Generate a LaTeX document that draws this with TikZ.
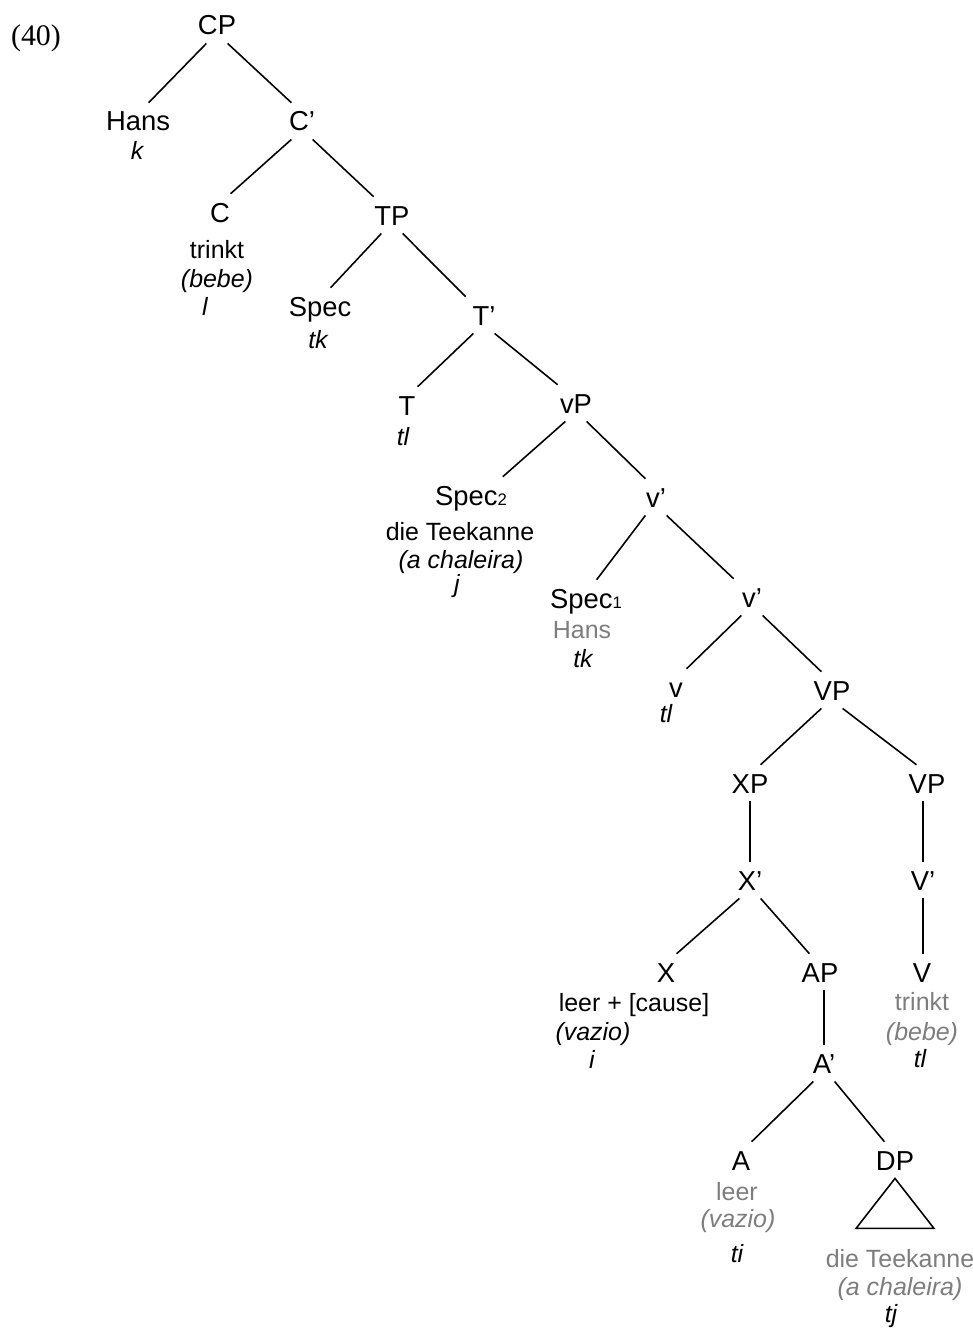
\documentclass[tikz,border=0pt]{standalone}
\usepackage{xcolor}
\usepackage{fontspec}
\setmainfont{Liberation Sans}
\newfontfamily\exfont{Liberation Serif}
\usepackage{tikz}

\definecolor{tracegray}{RGB}{125,125,125}
\tikzset{
  cat/.style={anchor=base, inner sep=0pt, inner xsep=2pt, minimum width=25pt,
    text height=15.9pt, text depth=4.6pt, font=\fontsize{15.6}{18}\selectfont},
  word/.style={anchor=base, inner sep=0pt, font=\fontsize{14.2}{17}\selectfont},
  gloss/.style={anchor=base, inner sep=0pt, font=\fontsize{14.2}{17}\selectfont\itshape},
  idx/.style={gloss},
  traced/.style={text=tracegray},
  branch/.style={line width=0.9pt},
}
\newcommand{\subidx}[1]{{\fontsize{9.5}{10}\selectfont #1}}

\begin{document}
\begin{tikzpicture}[x=0.02cm, y=-0.02cm]
             \useasboundingbox (0,0) rectangle (973,1335);
             \node[anchor=base, font=\exfont\fontsize{17}{20}\selectfont] (ex) at (36,46) {(40)};

             \node[cat] (CP) at (217,35) {CP};
             \node[cat] (Hans) at (138,131) {Hans};
             \node[idx] (Hans-i) at (137,159) {k};
             \node[cat] (Cbar) at (302,131) {C’};
             \node[cat] (C) at (220,222) {C};
             \node[word] (C-w) at (217,258) {trinkt};
             \node[gloss] (C-g) at (217,287) {(bebe)};
             \node[idx] (C-i) at (205,315) {l};
             \node[cat] (TP) at (392,225) {TP};
             \node[cat] (SpecT) at (320,316) {Spec};
             \node[idx] (SpecT-i) at (318,348) {tk};
             \node[cat] (Tbar) at (484,325) {T’};
             \node[cat] (T) at (407,415) {T};
             \node[idx] (T-i) at (403,445) {tl};
             \node[cat] (vP) at (576,413) {vP};
             \node[cat] (SpecB) at (471,505) {Spec\subidx{2}};
             \node[word] (SpecB-w) at (460,540) {die Teekanne};
             \node[gloss] (SpecB-g) at (461,568) {(a chaleira)};
             \node[idx] (SpecB-i) at (457,592) {j};
             \node[cat] (vbarA) at (656,507) {v’};
             \node[cat] (SpecA) at (586,608) {Spec\subidx{1}};
             \node[word, traced] (SpecA-w) at (582,638) {Hans};
             \node[idx] (SpecA-i) at (583,667) {tk};
             \node[cat] (vbarB) at (752,607) {v’};
             \node[cat] (v) at (676,697) {v};
             \node[idx] (v-i) at (666,722) {tl};
             \node[cat] (VPa) at (832,700) {VP};
             \node[cat] (XP) at (750,793) {XP};
             \node[cat] (VPb) at (927,793) {VP};
             \node[cat] (Xbar) at (750,890) {X’};
             \node[cat] (Vbar) at (923,890) {V’};
             \node[cat] (X) at (666,982) {X};
             \node[word] (X-w) at (634,1011) {leer + [cause]};
             \node[gloss] (X-g) at (593,1040) {(vazio)};
             \node[idx] (X-i) at (592,1068) {i};
             \node[cat] (AP) at (820,982) {AP};
             \node[cat] (V) at (922,982) {V};
             \node[word, traced] (V-w) at (922,1010) {trinkt};
             \node[gloss, traced] (V-g) at (922,1040) {(bebe)};
             \node[idx] (V-i) at (920,1067) {tl};
             \node[cat] (Abar) at (824,1073) {A’};
             \node[cat] (A) at (741,1170) {A};
             \node[word, traced] (A-w) at (737,1200) {leer};
             \node[gloss, traced] (A-g) at (738,1227) {(vazio)};
             \node[idx] (A-i) at (737,1262) {ti};
             \node[cat] (DP) at (895,1170) {DP};
             \node[word, traced] (DP-w) at (900,1267) {die Teekanne};
             \node[gloss, traced] (DP-g) at (900,1295) {(a chaleira)};
             \node[idx] (DP-i) at (891,1322) {tj};

             \draw[branch] (CP.240) -- (Hans.60);
             \draw[branch] (CP.300) -- (Cbar.120);
             \draw[branch] (Cbar.240) -- (C.60);
             \draw[branch] (Cbar.300) -- (TP.135);
             \draw[branch] (TP.240) -- (SpecT.60);
             \draw[branch] (TP.300) -- (Tbar.135);
             \draw[branch] (Tbar.240) -- (T.60);
             \draw[branch] (Tbar.300) -- (vP.135);
             \draw[branch] (vP.240) -- (SpecB.30);
             \draw[branch] (vP.300) -- (vbarA.120);
             \draw[branch] (vbarA.240) -- (SpecA.60);
             \draw[branch] (vbarA.300) -- (vbarB.135);
             \draw[branch] (vbarB.240) -- (v.60);
             \draw[branch] (vbarB.300) -- (VPa.120);
             \draw[branch] (VPa.240) -- (XP.60);
             \draw[branch] (VPa.300) -- (VPb.120);
             \draw[branch] (XP.south) -- (Xbar.north);
             \draw[branch] (Vbar.north |- VPb.south) -- (Vbar.north);
             \draw[branch] (Xbar.240) -- (X.60);
             \draw[branch] (Xbar.300) -- (AP.120);
             \draw[branch] (Vbar.south) -- (Vbar.south |- V.north);
             \draw[branch] (Abar.north |- AP.south) -- (Abar.north);
             \draw[branch] (Abar.240) -- (A.60);
             \draw[branch] (Abar.300) -- (DP.120);
             \draw[branch] (DP.south) -- ++(-39,50) -- ++(78,0) -- cycle;
\end{tikzpicture}
\end{document}
